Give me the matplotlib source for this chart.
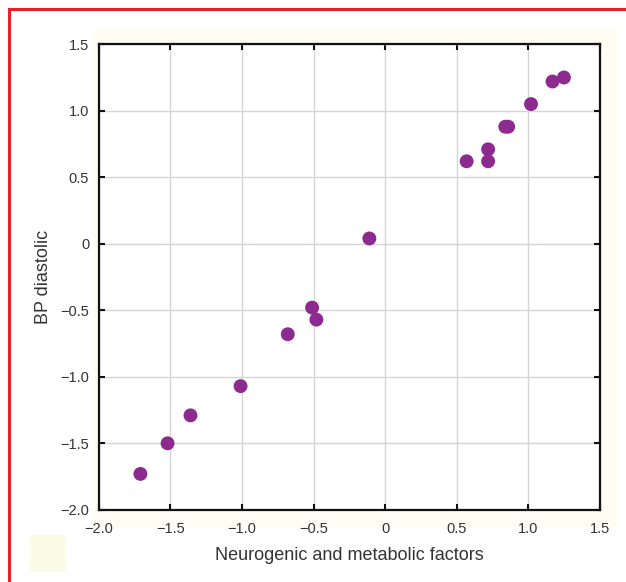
import matplotlib
matplotlib.use("Agg")
import matplotlib.pyplot as plt
from matplotlib.patches import Rectangle
from matplotlib.lines import Line2D

plt.rcParams['font.family'] = ['Liberation Sans', 'DejaVu Sans']

# neurogenic/metabolic factor score vs diastolic BP score
x_vals = [-1.71, -1.52, -1.36, -1.01, -0.68, -0.51, -0.48, -0.11,
          0.57, 0.72, 0.72, 0.84, 0.86, 1.02, 1.17, 1.25]
y_vals = [-1.73, -1.50, -1.29, -1.07, -0.68, -0.48, -0.57, 0.04,
          0.62, 0.71, 0.62, 0.88, 0.88, 1.05, 1.22, 1.25]

x_ticks = [-2.0, -1.5, -1.0, -0.5, 0, 0.5, 1.0, 1.5]
x_labels = ['\u22122.0', '\u22121.5', '\u22121.0', '\u22120.5', '0', '0.5', '1.0', '1.5']
y_ticks = [-2.0, -1.5, -1.0, -0.5, 0, 0.5, 1.0, 1.5]
y_labels = ['\u22122.0', '\u22121.5', '\u22121.0', '\u22120.5', '0', '0.5', '1.0', '1.5']

fig = plt.figure(figsize=(6.26, 5.82), dpi=100)

# pale cream panel behind the plot and the small square bottom left
fig.patches.append(Rectangle((0.150, 0.095), 0.835, 0.855, transform=fig.transFigure,
                             facecolor='#fdfdf4', edgecolor='none', zorder=-5))
fig.patches.append(Rectangle((0.048, 0.018), 0.058, 0.062, transform=fig.transFigure,
                             facecolor='#fbfbe6', edgecolor='none', zorder=-5))

# red frame (top and left edges visible)
fig.lines.append(Line2D([0.014, 1.0], [0.984, 0.984], transform=fig.transFigure,
                        color='#e8202a', lw=2.2))
fig.lines.append(Line2D([0.014, 0.014], [0.0, 0.984], transform=fig.transFigure,
                        color='#e8202a', lw=2.2))

ax = fig.add_axes([0.158, 0.124, 0.800, 0.800])
ax.set_facecolor('white')
ax.scatter(x_vals, y_vals, s=100, color='#8c2a90', edgecolors='none', zorder=3)

ax.set_xlim(-2.0, 1.5)
ax.set_ylim(-2.0, 1.5)
ax.set_xticks(x_ticks)
ax.set_xticklabels(x_labels)
ax.set_yticks(y_ticks)
ax.set_yticklabels(y_labels)
ax.grid(True, color='#d8d4d4', lw=1.0)
ax.set_axisbelow(True)
ax.tick_params(direction='in', top=True, right=True, length=4, width=1.5,
               labelsize=10.5, colors='#111111', labelcolor='#333333')
ax.tick_params(axis='x', pad=9)
ax.tick_params(axis='y', pad=7)
for s in ax.spines.values():
    s.set_linewidth(1.6)
    s.set_color('#111111')

ax.set_xlabel('Neurogenic and metabolic factors', fontsize=13, color='#333333', labelpad=8)
ax.set_ylabel('BP diastolic', fontsize=13, color='#333333', labelpad=6)

fig.savefig('out.png', dpi=100)
